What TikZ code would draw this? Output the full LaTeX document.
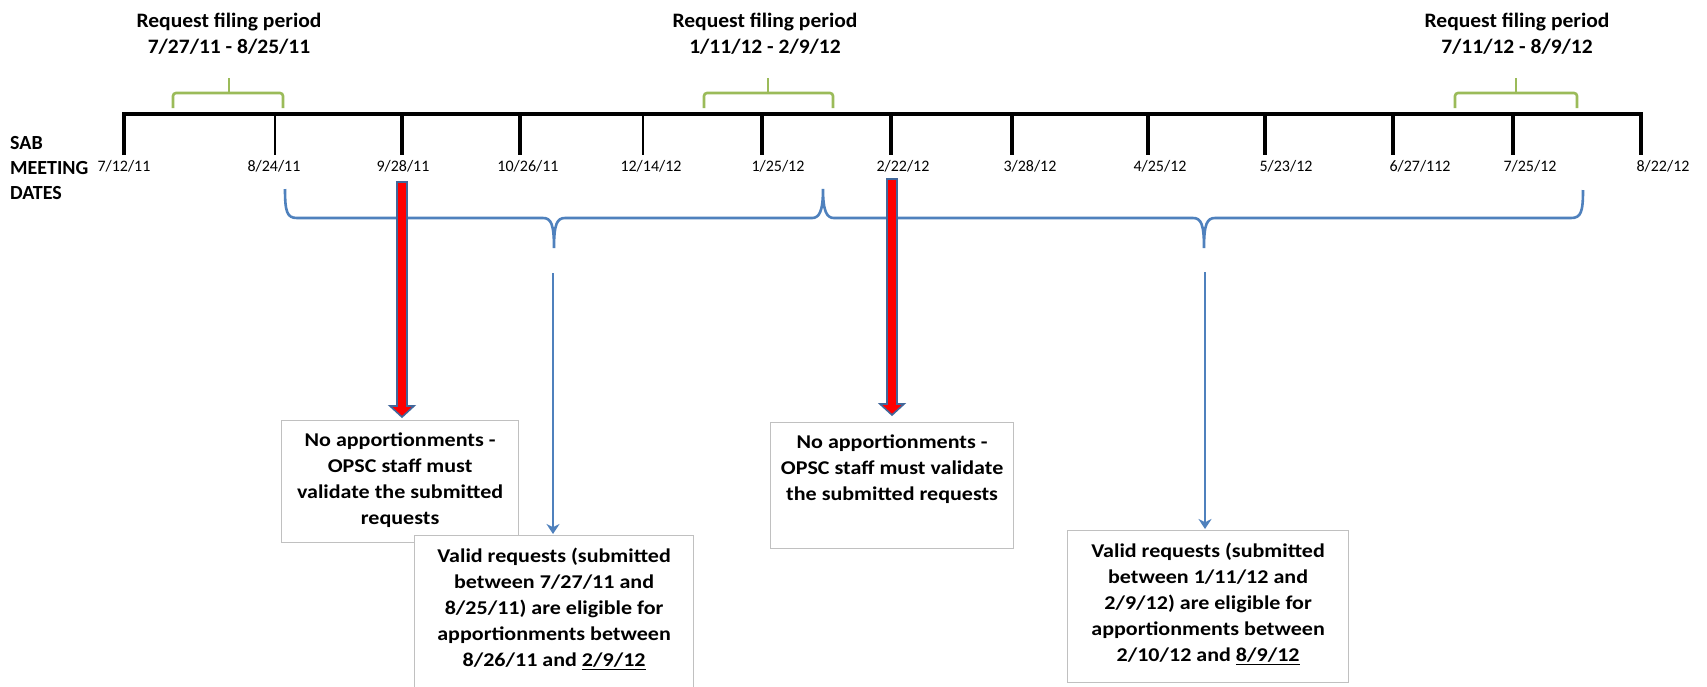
\documentclass[tikz,border=0pt]{standalone}
\usepackage{fontspec}
\setmainfont{Carlito}
\newfontfamily\boxfont[FakeStretch=1.13]{Carlito}
\newfontfamily\titlefont[FakeStretch=1.05]{Carlito}
\usetikzlibrary{arrows.meta,calc}
\definecolor{tlgreen}{HTML}{9BBB59}
\definecolor{tlblue}{HTML}{4F81BD}
\definecolor{arrowborder}{HTML}{41679B}
\definecolor{boxgray}{HTML}{C0C0C0}
\definecolor{arrowred}{HTML}{FF0000}
\begin{document}
\begin{tikzpicture}[x=1pt,y=-1pt,
  datelbl/.style={font=\fontsize{16}{19}\selectfont, inner sep=0pt},
  titlelbl/.style={font=\titlefont\bfseries\fontsize{20.5}{26}\selectfont, align=center, inner sep=0pt},
  sidelbl/.style={font=\bfseries\fontsize{20}{25}\selectfont, align=left, inner sep=0pt},
  timeline/.style={line width=3.5pt, black, line join=miter},
  tickline/.style={line width=3.5pt, black},
  thintick/.style={line width=2.5pt, black},
  greenbr/.style={line width=2.6pt, tlgreen, rounded corners=3pt},
  bluebr/.style={line width=2.6pt, tlblue},
  bluearrow/.style={line width=2.6pt, tlblue, -{Stealth[length=10pt,width=13pt]}},
  redarrow/.style={fill=arrowred, draw=arrowborder, line width=1.6pt, line join=miter},
  boxframe/.style={draw=boxgray, line width=1.2pt, fill=white, inner sep=0pt, anchor=north west},
  boxtext/.style={font=\boxfont\bfseries\fontsize{19.5}{26}\selectfont, align=center, inner sep=0pt, anchor=north}
]
\useasboundingbox[fill=white] (0,0) rectangle (1707,686);

% ---- timeline ----
\coordinate (tA) at (124,114);
\coordinate (tZ) at (1641,114);
\draw[timeline] (124,155) -- (tA) -- (tZ) -- (1641,155);
\foreach \x/\w in {275/thintick,402/tickline,520/tickline,643/thintick,762/tickline,891/tickline,1012/tickline,1148/tickline,1265/tickline,1393/tickline,1513/tickline}
  \draw[\w] (\x,114) -- (\x,155);

% ---- date labels ----
\node[datelbl] (d1) at (124,166) {7/12/11};
\node[datelbl] (d2) at (274,166) {8/24/11};
\node[datelbl] (d3) at (403,166) {9/28/11};
\node[datelbl] (d4) at (528,166) {10/26/11};
\node[datelbl] (d5) at (651,166) {12/14/12};
\node[datelbl] (d6) at (778,166) {1/25/12};
\node[datelbl] (d7) at (903,166) {2/22/12};
\node[datelbl] (d8) at (1030,166) {3/28/12};
\node[datelbl] (d9) at (1160,166) {4/25/12};
\node[datelbl] (d10) at (1286,166) {5/23/12};
\node[datelbl] (d11) at (1420,166) {6/27/112};
\node[datelbl] (d12) at (1530,166) {7/25/12};
\node[datelbl] (d13) at (1663,166) {8/22/12};

\node[sidelbl, anchor=west] (sab) at (10,168) {SAB\\MEETING\\DATES};

% ---- request filing periods ----
\node[titlelbl] (p1) at (229,34) {Request filing period\\7/27/11 - 8/25/11};
\node[titlelbl] (p2) at (765,34) {Request filing period\\1/11/12 - 2/9/12};
\node[titlelbl] (p3) at (1517,34) {Request filing period\\7/11/12 - 8/9/12};

\draw[greenbr] (173,108) -- (173,93) -- (283,93) -- (283,108);
\draw[line width=2.6pt, tlgreen] (229,93) -- (229,78);
\draw[greenbr] (704,108) -- (704,93) -- (833,93) -- (833,108);
\draw[line width=2.6pt, tlgreen] (768,93) -- (768,78);
\draw[greenbr] (1455,108) -- (1455,93) -- (1577,93) -- (1577,108);
\draw[line width=2.6pt, tlgreen] (1516,93) -- (1516,78);

% ---- blue braces ----
\coordinate (br1) at (554,248);
\coordinate (br2) at (1204,248);
\draw[bluebr] (285,189) .. controls (285,212) and (287,218) .. (297,218) -- (543,218)
  .. controls (551,218) and (554,224) .. (br1)
  .. controls (554,224) and (557,218) .. (565,218) -- (812,218)
  .. controls (819,218) and (823,212) .. (823,189)
  .. controls (823,212) and (827,218) .. (834,218) -- (1193,218)
  .. controls (1201,218) and (1204,224) .. (br2)
  .. controls (1204,224) and (1207,218) .. (1215,218) -- (1571,218)
  .. controls (1581,218) and (1583,212) .. (1583,190);

% ---- boxes ----
\node[boxframe, minimum width=237pt, minimum height=122pt] (b1) at (281,420) {};
\node[boxtext] (b1t) at ($(b1.north)+(0,13)$) {No apportionments -\\OPSC staff must\\validate the submitted\\requests};
\node[boxframe, minimum width=279pt, minimum height=165pt] (b2) at (414,535) {};
\node[boxtext] (b2t) at ($(b2.north)+(0,13)$) {Valid requests (submitted\\between 7/27/11 and\\8/25/11) are eligible for\\apportionments between\\8/26/11 and \underline{2/9/12}};
\node[boxframe, minimum width=243pt, minimum height=126pt] (b3) at (770,422) {};
\node[boxtext] (b3t) at ($(b3.north)+(0,13)$) {No apportionments -\\OPSC staff must validate\\the submitted requests};
\node[boxframe, minimum width=281pt, minimum height=152pt] (b4) at (1067,530) {};
\node[boxtext] (b4t) at ($(b4.north)+(0,13)$) {Valid requests (submitted\\between 1/11/12 and\\2/9/12) are eligible for\\apportionments between\\2/10/12 and \underline{8/9/12}};

% ---- blue arrows ----
\coordinate (a1) at (553,273);
\coordinate (a2) at (1205,272);
\draw[bluearrow, shorten >=1pt] (a1) -- (a1 |- b2.north);
\draw[bluearrow, shorten >=1pt] (a2) -- (a2 |- b4.north);

% ---- red block arrows ----
\coordinate (r1) at (402,182);
\coordinate (r1tip) at (402,417);
\coordinate (r2) at (892,179);
\coordinate (r2tip) at (892,415);
\draw[redarrow] let \p1=(r1), \p2=(r1tip) in
  (\x1-5pt,\y1) -- (\x1-5pt,\y2+11pt) -- (\x1-12pt,\y2+11pt) -- (\x2,\y2)
  -- (\x1+12pt,\y2+11pt) -- (\x1+5pt,\y2+11pt) -- (\x1+5pt,\y1) -- cycle;
\draw[redarrow] let \p1=(r2), \p2=(r2tip) in
  (\x1-5pt,\y1) -- (\x1-5pt,\y2+11pt) -- (\x1-12pt,\y2+11pt) -- (\x2,\y2)
  -- (\x1+12pt,\y2+11pt) -- (\x1+5pt,\y2+11pt) -- (\x1+5pt,\y1) -- cycle;
\end{tikzpicture}
\end{document}
